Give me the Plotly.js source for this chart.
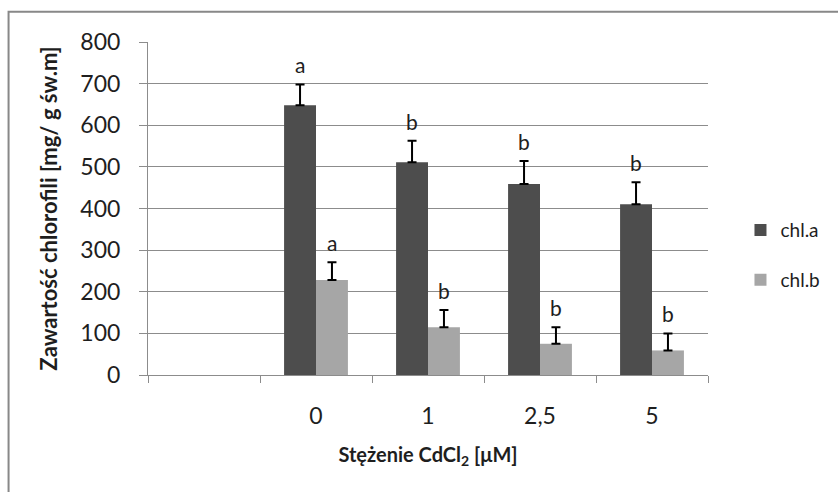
<!DOCTYPE html>
<html>
<head>
<meta charset="utf-8">
<script src="https://cdn.plot.ly/plotly-3.0.1.min.js"></script>
<style>html,body{margin:0;padding:0;background:#fff;}#chart{width:838px;height:492px;}</style>
</head>
<body>
<div id="chart"></div>
<script>
// Data
const categories = [' ', '0', '1', '2,5', '5'];
const chlA = [null, 648, 511, 459, 410];
const chlAErr = [null, 50, 52, 55, 53];
const chlB = [null, 228, 115, 75, 59];
const chlBErr = [null, 43, 41, 40, 41];
const lettersA = [null, 'a', 'b', 'b', 'b'];
const lettersB = [null, 'a', 'b', 'b', 'b'];
const seriesNames = ['chl.a', 'chl.b'];
const yTicks = [0, 100, 200, 300, 400, 500, 600, 700, 800];

const FONT = 'Lato, "Open Sans", "DejaVu Sans", sans-serif';
const TXT = '#1e1e1e';
const GRID = '#8c8c8c';

const zeros = categories.map(() => 0);

const traces = [
  {
    type: 'bar', name: seriesNames[0], x: categories, y: chlA,
    marker: {color: '#4d4d4d', line: {width: 0}},
    error_y: {type: 'data', symmetric: false, array: chlAErr, arrayminus: zeros,
              color: '#000', thickness: 2, width: 4.5},
    legendgroup: 'a', hoverinfo: 'none'
  },
  {
    type: 'bar', name: seriesNames[1], x: categories, y: chlB,
    marker: {color: '#a6a6a6', line: {width: 0}},
    error_y: {type: 'data', symmetric: false, array: chlBErr, arrayminus: zeros,
              color: '#000', thickness: 2, width: 4.5},
    legendgroup: 'b', hoverinfo: 'none'
  }
];

// letters placed at category index positions (category axis scale)
const annotations = [];
categories.forEach((c, i) => {
  if (lettersA[i]) annotations.push({
    x: i, y: chlA[i] + chlAErr[i], xref: 'x', yref: 'y', text: lettersA[i],
    showarrow: false, xshift: -16, yshift: 5, yanchor: 'bottom',
    font: {family: FONT, size: 21, color: TXT}
  });
  if (lettersB[i]) annotations.push({
    x: i, y: chlB[i] + chlBErr[i], xref: 'x', yref: 'y', text: lettersB[i],
    showarrow: false, xshift: 16, yshift: 5, yanchor: 'bottom',
    font: {family: FONT, size: 21, color: TXT}
  });
});

const layout = {
  width: 838, height: 492,
  margin: {l: 148, r: 130, t: 42, b: 117},
  paper_bgcolor: '#fff', plot_bgcolor: '#fff',
  font: {family: FONT, color: TXT, size: 20},
  showlegend: true,
  barmode: 'group', bargap: 0.43, bargroupgap: 0,
  legend: {x: 1.058, xanchor: 'left', y: 0.36, yanchor: 'middle',
           font: {family: FONT, size: 19, color: TXT}, tracegroupgap: 22,
           bgcolor: 'rgba(0,0,0,0)'},
  xaxis: {
    type: 'category', categoryorder: 'array', categoryarray: categories,
    range: [-0.5, 4.5], tickson: 'boundaries', ticks: 'outside', ticklen: 7,
    tickcolor: GRID, tickwidth: 1, showline: true, linecolor: GRID, linewidth: 1,
    showgrid: false, zeroline: false, ticklabelstandoff: 20,
    tickfont: {family: FONT, size: 23, color: TXT},
    title: {text: '<b>Stężenie CdCl<sub>2</sub> [μM]</b>', standoff: 20,
            font: {family: FONT, size: 20, color: TXT}}
  },
  yaxis: {
    range: [0, 800], tickvals: yTicks, ticks: 'outside', ticklen: 8,
    tickcolor: GRID, tickwidth: 1, showline: true, linecolor: GRID, linewidth: 1,
    showgrid: true, gridcolor: GRID, gridwidth: 1, zeroline: false,
    ticklabelstandoff: 14,
    tickfont: {family: FONT, size: 23, color: TXT},
    title: {text: '<b>Zawartość chlorofili [mg/ g św.m]</b>', standoff: 16,
            font: {family: FONT, size: 22, color: TXT}}
  },
  annotations: annotations,
  shapes: [{
    type: 'rect', xref: 'paper', yref: 'paper',
    x0: -0.249, x1: 1.4, y0: -0.6, y1: 1.091,
    line: {color: '#888', width: 2}, fillcolor: 'rgba(0,0,0,0)', layer: 'below'
  }]
};

Plotly.newPlot('chart', traces, layout, {displayModeBar: false, staticPlot: true});
</script>
</body>
</html>
